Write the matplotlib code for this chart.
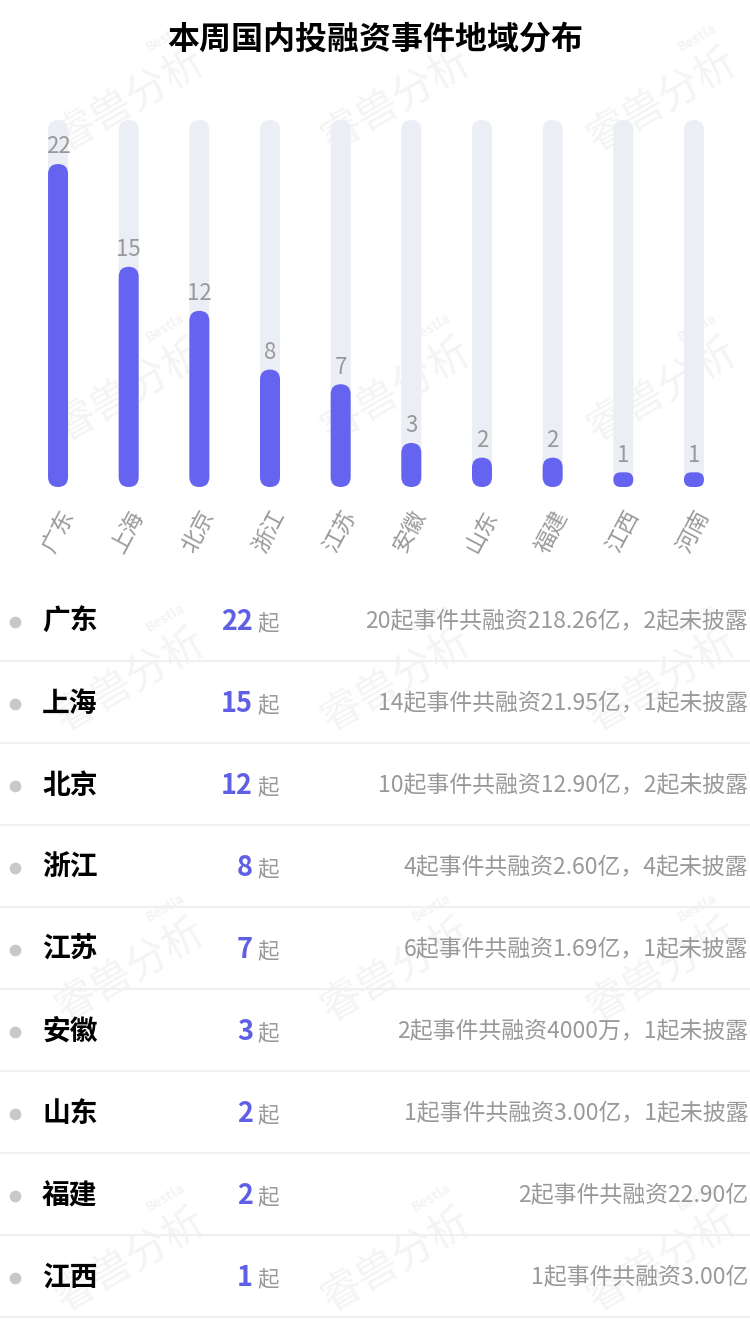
import matplotlib
matplotlib.use("Agg")
import matplotlib.pyplot as plt
from matplotlib.patches import FancyBboxPatch

plt.rcParams['font.family'] = ['Noto Sans CJK SC', 'DejaVu Sans']

title = "本周国内投融资事件地域分布"
provinces = ["广东", "上海", "北京", "浙江", "江苏", "安徽", "山东", "福建", "江西", "河南"]
counts = [22, 15, 12, 8, 7, 3, 2, 2, 1, 1]
axis_max = 25
details = [
    "20起事件共融资218.26亿，2起未披露",
    "14起事件共融资21.95亿，1起未披露",
    "10起事件共融资12.90亿，2起未披露",
    "4起事件共融资2.60亿，4起未披露",
    "6起事件共融资1.69亿，1起未披露",
    "2起事件共融资4000万，1起未披露",
    "1起事件共融资3.00亿，1起未披露",
    "2起事件共融资22.90亿",
    "1起事件共融资3.00亿",
]

W, H = 750, 1334
bar_color = "#6464f0"
track_color = "#eceef5"
gray = "#999999"

fig = plt.figure(figsize=(W / 100, H / 100), dpi=100)

# full-figure layout axes in pixel units (top-down)
bg = fig.add_axes([0, 0, 1, 1])
bg.set_xlim(0, W)
bg.set_ylim(H, 0)
bg.axis("off")

# faint watermark
for cy in [100, 390, 680, 970, 1260]:
    for cx in [130, 396, 662]:
        bg.text(cx, cy, "睿兽分析", fontsize=30, color="#f4f4f4", rotation=30,
                ha="center", va="center", zorder=0)
        bg.text(cx + 35, cy - 62, "Bestla", fontsize=10, color="#f4f4f4", rotation=30,
                ha="center", va="center", fontweight="bold", zorder=0)

bg.text(W / 2, 40, title, ha="center", va="center", fontsize=23, fontweight="bold", color="black")

# bar chart
ax_left, ax_right, ax_top, ax_bottom = 22.7, 729.3, 120, 487
ax = fig.add_axes([ax_left / W, 1 - ax_bottom / H, (ax_right - ax_left) / W, (ax_bottom - ax_top) / H])
ax.set_xlim(-0.5, len(provinces) - 0.5)
ax.set_ylim(0, axis_max)
ax.axis("off")
ax.patch.set_alpha(0)

px_x = (ax_right - ax_left) / len(provinces)
px_y = (ax_bottom - ax_top) / axis_max
aspect = px_x / px_y
bw = 20 / px_x


def pill(x, h, color, z):
    r = min(bw / 2, h / aspect / 2)
    p = FancyBboxPatch((x - bw / 2, 0), bw, h, boxstyle=f"round,pad=0,rounding_size={r}",
                       mutation_aspect=aspect, fc=color, ec="none", zorder=z, clip_on=False)
    ax.add_patch(p)


for i, (name, v) in enumerate(zip(provinces, counts)):
    pill(i, axis_max, track_color, 1)
    pill(i, v, bar_color, 2)
    ax.annotate(str(v), xy=(i, v), xytext=(0, 4), textcoords="offset points",
                ha="center", va="bottom", fontsize=16, color=gray, zorder=3)
    ax.annotate(name, xy=(i, 0), xytext=(7, -18), textcoords="offset points",
                ha="right", va="center", rotation=62, rotation_mode="anchor",
                fontsize=16, color=gray, annotation_clip=False)

# list below
row_h = 82
for i, (name, v, desc) in enumerate(zip(provinces, counts, details)):
    cy = 622 + row_h * i
    bg.scatter([15], [cy], s=55, color="#c8c8c8", zorder=2)
    bg.text(42, cy, name, ha="left", va="center", fontsize=20, fontweight="bold", color="black")
    bg.text(253, cy, str(v), ha="right", va="center", fontsize=19.5, fontweight="bold", color="#5f5fe6")
    bg.text(257, cy + 1, "起", ha="left", va="center", fontsize=15.5, color=gray)
    bg.text(748, cy, desc, ha="right", va="center", fontsize=16.5, color=gray)
    bg.plot([0, W], [cy + 39, cy + 39], color="#f0f0f0", lw=1.5, zorder=1)

fig.savefig("out.png", dpi=100)
